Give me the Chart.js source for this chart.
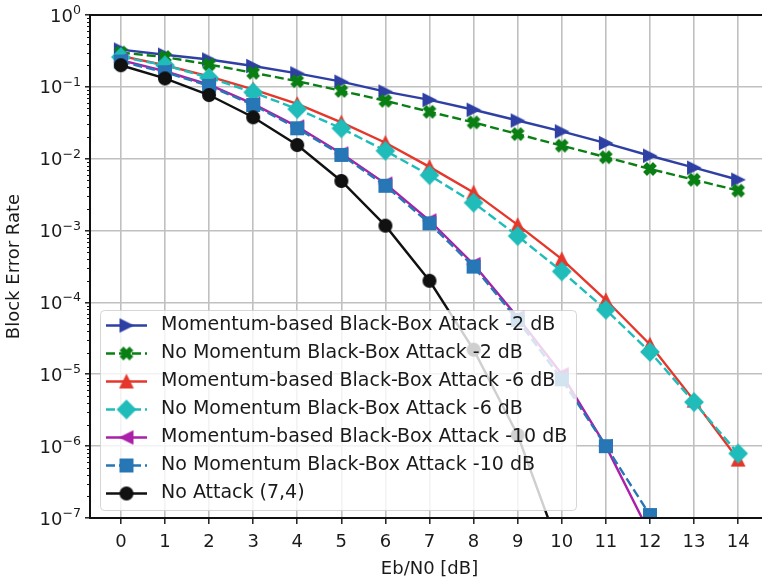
<!DOCTYPE html>
<html>
<head>
<meta charset="utf-8">
<script src="https://cdn.jsdelivr.net/npm/chart.js@4.4.1/dist/chart.umd.min.js"></script>
<style>
html, body { margin: 0; padding: 0; overflow: hidden; background: #fff; }
#marco { width: 762px; height: 580px; overflow: hidden; position: relative; }
#grafico { position: absolute; left: 0; top: 0; }
</style>
</head>
<body>
<div id="marco"><canvas id="grafico" width="780" height="580"></canvas></div>
<script>
// Valores del eje x (Eb/N0 en dB)
const ebn0 = [0, 1, 2, 3, 4, 5, 6, 7, 8, 9, 10, 11, 12, 13, 14];

// Tasa de error de bloque de cada curva
const momentum2dB = [0.33, 0.28, 0.24, 0.195, 0.154, 0.118, 0.086, 0.066, 0.048, 0.034, 0.024, 0.0165, 0.011, 0.0075, 0.0051];
const sinMomentum2dB = [0.30, 0.26, 0.205, 0.157, 0.12, 0.088, 0.064, 0.045, 0.032, 0.022, 0.0152, 0.0105, 0.0072, 0.0051, 0.0036];
const momentum6dB = [0.27, 0.20, 0.14, 0.092, 0.058, 0.032, 0.0167, 0.0077, 0.0034, 0.0012, 4.0e-4, 1.08e-4, 2.6e-5, 4.3e-6, 6.5e-7];
const sinMomentum6dB = [0.26, 0.20, 0.134, 0.084, 0.049, 0.0265, 0.0129, 0.0059, 0.00244, 8.4e-4, 2.7e-4, 7.9e-5, 2.05e-5, 4.1e-6, 7.9e-7];
const momentum10dB = [0.235, 0.165, 0.107, 0.058, 0.028, 0.0118, 0.0045, 0.00138, 3.4e-4, 6.2e-5, 1.0e-5, 1.0e-6, 6e-8];
const sinMomentum10dB = [0.225, 0.16, 0.103, 0.056, 0.0265, 0.0113, 0.0042, 0.00126, 3.15e-4, 5.7e-5, 8.5e-6, 1.0e-6, 1.1e-7];
const sinAtaque = [0.2, 0.131, 0.077, 0.0377, 0.0155, 0.0049, 0.00117, 2.0e-4, 2.2e-5, 1.43e-6, 3e-8];

// Nombres de las curvas (leyenda)
const etiquetas = [
    'Momentum-based Black-Box Attack -2 dB',
    'No Momentum Black-Box Attack -2 dB',
    'Momentum-based Black-Box Attack -6 dB',
    'No Momentum Black-Box Attack -6 dB',
    'Momentum-based Black-Box Attack -10 dB',
    'No Momentum Black-Box Attack -10 dB',
    'No Attack (7,4)'
];

// Exponentes de las marcas principales del eje y
const potenciasY = [0, -1, -2, -3, -4, -5, -6, -7];

const series = [momentum2dB, sinMomentum2dB, momentum6dB, sinMomentum6dB, momentum10dB, sinMomentum10dB, sinAtaque];

// Estilo de cada curva
const estilos = [
    { color: '#2e40a3', dash: [], marca: 'triDer' },
    { color: '#0a7f14', dash: [9, 4], marca: 'X' },
    { color: '#e5372b', dash: [], marca: 'triArr' },
    { color: '#1fbcba', dash: [9, 4], marca: 'D' },
    { color: '#aa20a8', dash: [], marca: 'triIzq' },
    { color: '#2776b5', dash: [9, 4], marca: 's' },
    { color: '#111111', dash: [], marca: 'o' }
];

const fuente = '"DejaVu Sans", "Liberation Sans", sans-serif';
const colorTexto = '#1a1a1a';

// Dibuja un marcador tipo matplotlib en un canvas pequeño
function crearMarca(forma, color) {
    const c = document.createElement('canvas');
    c.width = 26; c.height = 26;
    const g = c.getContext('2d');
    const ms = 12.8;
    const h = ms / 2;
    g.translate(13, 13);
    g.fillStyle = color;
    g.strokeStyle = color;
    g.lineWidth = 1.2;
    g.lineJoin = 'miter';
    g.beginPath();
    if (forma === 'triDer') {
        g.moveTo(h, 0); g.lineTo(-h, -h); g.lineTo(-h, h);
    } else if (forma === 'triIzq') {
        g.moveTo(-h, 0); g.lineTo(h, -h); g.lineTo(h, h);
    } else if (forma === 'triArr') {
        g.moveTo(0, -h); g.lineTo(-h, h); g.lineTo(h, h);
    } else if (forma === 'D') {
        const d = ms * Math.SQRT1_2;
        g.moveTo(0, -d); g.lineTo(d, 0); g.lineTo(0, d); g.lineTo(-d, 0);
    } else if (forma === 's') {
        g.rect(-h, -h, ms, ms);
    } else if (forma === 'o') {
        g.arc(0, 0, h, 0, Math.PI * 2);
    } else if (forma === 'X') {
        const cruz = [[-1, -3], [1, -3], [1, -1], [3, -1], [3, 1], [1, 1], [1, 3], [-1, 3], [-1, 1], [-3, 1], [-3, -1], [-1, -1]];
        const k = ms / 6;
        const a = Math.PI / 4;
        cruz.forEach((p, i) => {
            const x = (p[0] * Math.cos(a) - p[1] * Math.sin(a)) * k;
            const y = (p[0] * Math.sin(a) + p[1] * Math.cos(a)) * k;
            if (i === 0) g.moveTo(x, y); else g.lineTo(x, y);
        });
    }
    g.closePath();
    g.fill();
    g.stroke();
    return c;
}

const marcas = estilos.map(e => crearMarca(e.marca, e.color));

// Marco, marcas menores y etiquetas del eje y
const pluginEjes = {
    id: 'ejesMatplotlib',
    afterDatasetsDraw(chart) {
        const ctx = chart.ctx;
        const area = chart.chartArea;
        const ejeY = chart.scales.y;
        ctx.save();
        // marcas menores
        ctx.strokeStyle = '#111';
        ctx.lineWidth = 1;
        for (let p = -7; p < 0; p++) {
            for (let m = 2; m <= 9; m++) {
                const y = Math.round(ejeY.getPixelForValue(m * Math.pow(10, p))) + 0.5;
                ctx.beginPath();
                ctx.moveTo(area.left, y);
                ctx.lineTo(area.left - 3, y);
                ctx.stroke();
            }
        }
        // marco
        ctx.lineWidth = 2;
        ctx.strokeStyle = '#111';
        ctx.strokeRect(area.left, area.top, area.right - area.left, area.bottom - area.top);
        // etiquetas 10^n
        ctx.fillStyle = colorTexto;
        ctx.textBaseline = 'alphabetic';
        potenciasY.forEach(p => {
            const y = ejeY.getPixelForValue(Math.pow(10, p));
            const exp = p === 0 ? '0' : '\u2212' + Math.abs(p);
            ctx.font = '12.6px ' + fuente;
            const wExp = ctx.measureText(exp).width;
            ctx.font = '18px ' + fuente;
            const wBase = ctx.measureText('10').width;
            const xDer = area.left - 9;
            ctx.fillText('10', xDer - wExp - wBase, y + 6.5);
            ctx.font = '12.6px ' + fuente;
            ctx.fillText(exp, xDer - wExp, y - 1);
        });
        ctx.restore();
    },
    afterDraw(chart) {
        // leyenda dentro del area del grafico
        const ctx = chart.ctx;
        const x0 = 100.5, y0 = 310.5, w = 476, h = 200, r = 4;
        ctx.save();
        ctx.beginPath();
        ctx.moveTo(x0 + r, y0);
        ctx.arcTo(x0 + w, y0, x0 + w, y0 + h, r);
        ctx.arcTo(x0 + w, y0 + h, x0, y0 + h, r);
        ctx.arcTo(x0, y0 + h, x0, y0, r);
        ctx.arcTo(x0, y0, x0 + w, y0, r);
        ctx.closePath();
        ctx.fillStyle = 'rgba(255,255,255,0.8)';
        ctx.fill();
        ctx.strokeStyle = 'rgba(204,204,204,0.8)';
        ctx.lineWidth = 1;
        ctx.stroke();
        etiquetas.forEach((txt, i) => {
            const y = 325.5 + i * 28;
            const e = estilos[i];
            ctx.strokeStyle = e.color;
            ctx.lineWidth = 2.4;
            ctx.setLineDash(e.dash);
            ctx.beginPath();
            ctx.moveTo(106, y);
            ctx.lineTo(147, y);
            ctx.stroke();
            ctx.setLineDash([]);
            const mk = marcas[i];
            ctx.drawImage(mk, 126.5 - mk.width / 2, y - mk.height / 2);
            ctx.fillStyle = colorTexto;
            ctx.font = '19px ' + fuente;
            ctx.textBaseline = 'middle';
            ctx.fillText(txt, 161, y);
        });
        ctx.restore();
    }
};

function generarGrafico() {
    const ctx = document.getElementById('grafico').getContext('2d');
    const datasets = series.map((valores, i) => ({
        label: etiquetas[i],
        data: valores.map((v, j) => ({ x: ebn0[j], y: v })),
        borderColor: estilos[i].color,
        backgroundColor: estilos[i].color,
        borderWidth: 2.4,
        borderDash: estilos[i].dash,
        pointStyle: marcas[i],
        pointRadius: 7,
        tension: 0,
        fill: false,
        order: series.length - i
    }));

    return new Chart(ctx, {
        type: 'line',
        data: { datasets: datasets },
        plugins: [pluginEjes],
        options: {
            responsive: false,
            animation: false,
            devicePixelRatio: 1,
            layout: { padding: { left: 0, top: 15, right: 11, bottom: 0 } },
            plugins: {
                legend: { display: false },
                tooltip: { enabled: false }
            },
            scales: {
                x: {
                    type: 'linear',
                    min: -0.7,
                    max: 14.7,
                    afterBuildTicks: eje => { eje.ticks = ebn0.map(v => ({ value: v })); },
                    afterFit: eje => { eje.height = 62; },
                    border: { display: false },
                    grid: { color: '#c0c0c0', lineWidth: 1.6, tickColor: '#111', tickLength: 6, tickWidth: 1.4 },
                    ticks: { color: colorTexto, font: { family: fuente, size: 18 }, padding: 8, maxRotation: 0, autoSkip: false },
                    title: { display: true, text: 'Eb/N0 [dB]', color: colorTexto, font: { family: fuente, size: 18, lineHeight: 1.2 }, padding: { top: 0, bottom: 0 } }
                },
                y: {
                    type: 'logarithmic',
                    min: 1e-7,
                    max: 1,
                    afterBuildTicks: eje => { eje.ticks = potenciasY.map(p => ({ value: Math.pow(10, p) })); },
                    afterFit: eje => { eje.width = 90; },
                    border: { display: false },
                    grid: { color: '#c0c0c0', lineWidth: 1.6, tickColor: '#111', tickLength: 5, tickWidth: 1.4 },
                    ticks: { display: true, callback: () => '' },
                    title: { display: true, text: 'Block Error Rate', color: colorTexto, font: { family: fuente, size: 18, lineHeight: 1.2 }, padding: { top: 4, bottom: 0 } }
                }
            }
        }
    });
}

generarGrafico();
</script>
</body>
</html>
